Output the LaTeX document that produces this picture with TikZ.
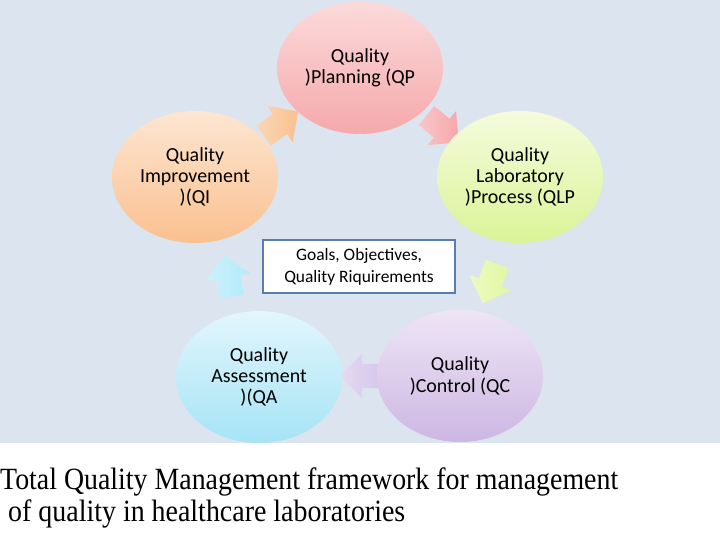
\documentclass[tikz,border=0pt]{standalone}
\usepackage{fontspec}
\setmainfont{Carlito}
\newfontfamily\capfont{Liberation Serif}
\usepackage{graphicx}
\usetikzlibrary{shapes,decorations}
\usetikzlibrary{arrows.meta, positioning}

\definecolor{bgblue}{HTML}{DCE4EF}
\definecolor{boxblue}{HTML}{5A7DB0}
\definecolor{qptop}{HTML}{FCDADA}
\definecolor{qpbot}{HTML}{F5A9AC}
\definecolor{qitop}{HTML}{FDE6D2}
\definecolor{qibot}{HTML}{FAC08F}
\definecolor{qlptop}{HTML}{F5FBDD}
\definecolor{qlpbot}{HTML}{DAF497}
\definecolor{qatop}{HTML}{E2F6FC}
\definecolor{qabot}{HTML}{A6E4F6}
\definecolor{qctop}{HTML}{EEE5F5}
\definecolor{qcbot}{HTML}{CDB7E3}
\definecolor{arrorange}{HTML}{F9C18F}
\definecolor{arrpink}{HTML}{F6A7AA}
\definecolor{arrgreen}{HTML}{E2F7A0}
\definecolor{arrlilac}{HTML}{D6C6EA}
\definecolor{arrblue}{HTML}{B2EAF9}

\tikzset{
  phase/.style={ellipse, minimum width=166bp, minimum height=132bp, inner sep=0pt,
    align=center, font=\fontsize{20}{21.5}\selectfont},
  cyclearrow/.style={single arrow, single arrow head extend=10bp, minimum height=42bp,
    inner xsep=0pt, inner ysep=12bp},
  goalbox/.style={draw=boxblue, line width=2.5bp, fill=white, minimum width=192bp,
    minimum height=53bp, align=center, font=\fontsize{17.5}{22}\selectfont},
  captext/.style={anchor=base west, inner sep=0pt, font=\capfont\fontsize{31}{32}\selectfont}
}

\begin{document}
\begin{tikzpicture}[x=1bp,y=-1bp]
\useasboundingbox (0,0) rectangle (720,540);

% Background
\fill[bgblue] (0,0) rectangle (720,443);

% Cycle arrows (behind the circles)
\foreach \n/\x/\y/\a/\c in {qiqp/276/127/35/arrorange, qpqlp/438/125/-40/arrpink,
    qlpqc/492/278/-110/arrgreen, qcqa/367/376/180/arrlilac, qaqi/229/282/100/arrblue}
{
    \node[cyclearrow, rotate=\a, left color=\c!65, right color=\c] (\n) at (\x,\y) {};
}

% Quality phases
\node[phase, top color=qptop, bottom color=qpbot] (qp) at (360,68) {Quality\\)Planning (QP};
\node[phase, top color=qitop, bottom color=qibot] (qi) at (195,177) {Quality\\Improvement\\)(QI};
\node[phase, top color=qlptop, bottom color=qlpbot] (qlp) at (520,177) {Quality\\Laboratory\\)Process (QLP};
\node[phase, top color=qatop, bottom color=qabot] (qa) at (259,377) {Quality\\Assessment\\)(QA};
\node[phase, top color=qctop, bottom color=qcbot] (qc) at (460,376) {Quality\\)Control (QC};

% Goals in the middle
\node[goalbox] (goals) at (359,266.5) {Goals, Objectives,\\Quality Riquirements};

% Caption
\node[captext] (cap1) at (0,489) {\resizebox{618bp}{\height}{Total Quality Management framework for management}};
\node[captext] (cap2) at (8,521) {\resizebox{397bp}{\height}{of quality in healthcare laboratories}};

\end{tikzpicture}
\end{document}
